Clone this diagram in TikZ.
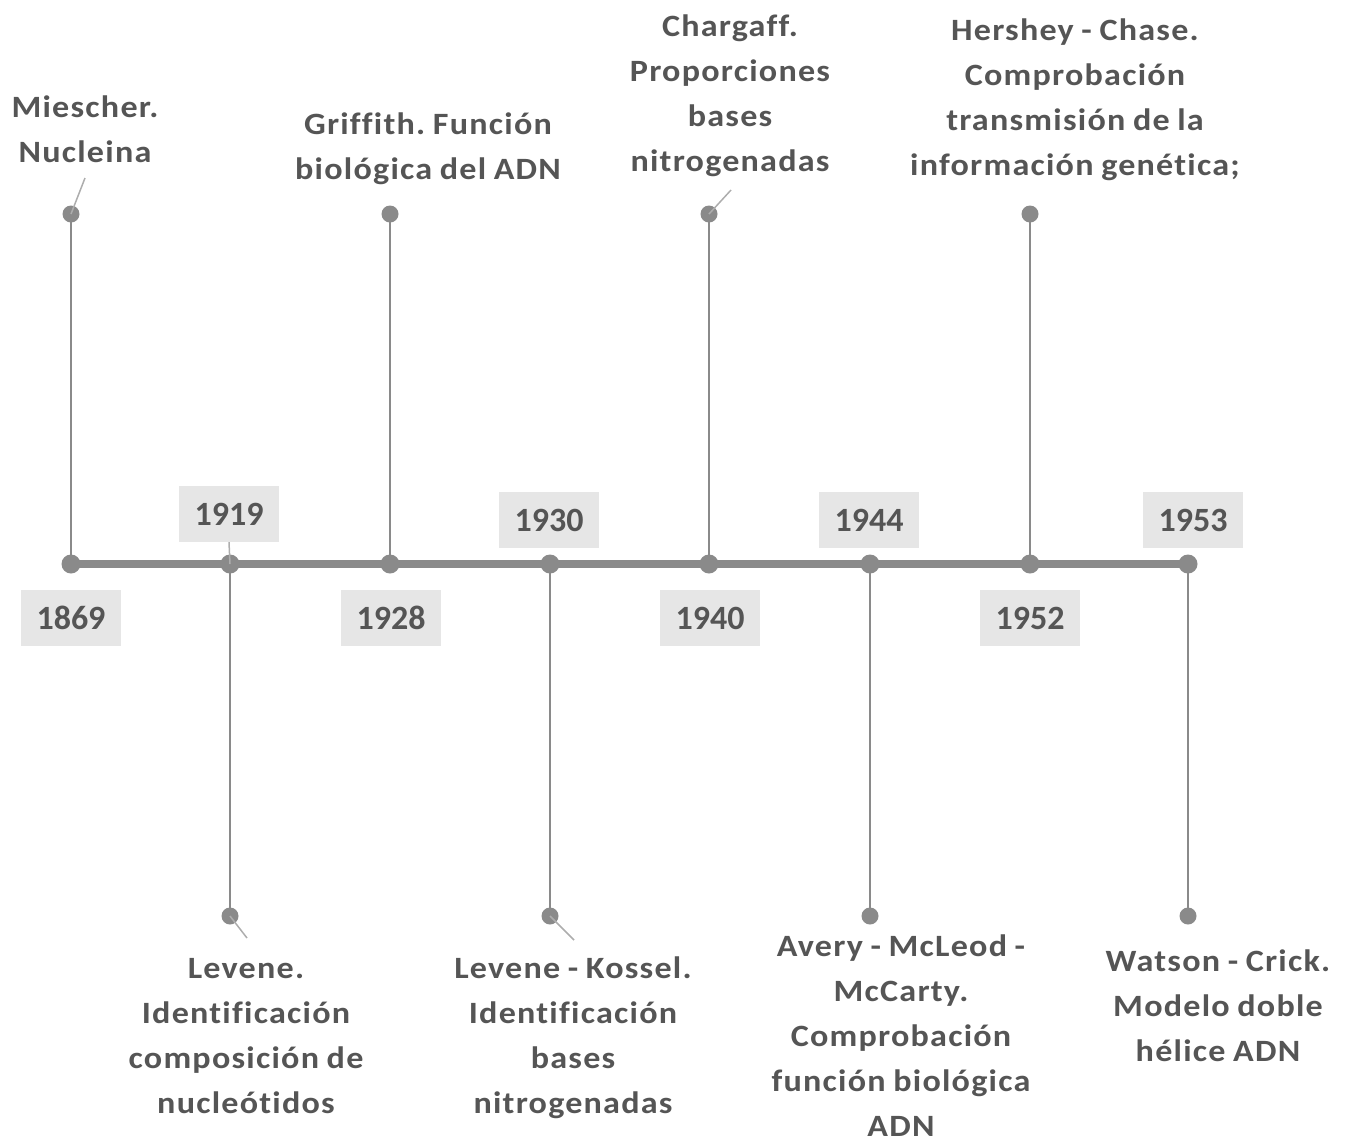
\documentclass[tikz,border=0pt]{standalone}
\usepackage{fontspec}
\setmainfont{Carlito}
\newfontfamily\labelfont[FakeStretch=1.1,LetterSpace=4,Ligatures=NoCommon,WordSpace=0.85]{Carlito}
\definecolor{txt}{HTML}{555555}
\definecolor{ln}{HTML}{8A8A8A}
\definecolor{yr}{HTML}{E6E6E6}
\frenchspacing
\begin{document}
\begin{tikzpicture}[x=1pt,y=-1pt,
  lbl/.style={text=txt,font=\labelfont\bfseries\fontsize{31}{45}\selectfont,align=center,inner sep=0pt},
  yearbox/.style={fill=yr,text=txt,font=\bfseries\fontsize{34}{38}\selectfont,minimum width=100pt,minimum height=56pt,inner sep=0pt},
  stem/.style={draw=ln,line width=2pt},
  leader/.style={draw=ln!70,line width=1.5pt},
  dot/.style={circle,fill=ln,inner sep=0pt,minimum size=17pt},
  bigdot/.style={circle,fill=ln,inner sep=0pt,minimum size=19pt}]
\useasboundingbox (0,0) rectangle (1348,1144);

% year boxes
\node[yearbox] (y1869) at (71,618) {1869};
\node[yearbox] (y1919) at (229,514) {1919};
\node[yearbox] (y1928) at (391,618) {1928};
\node[yearbox] (y1930) at (549,520) {1930};
\node[yearbox] (y1940) at (710,618) {1940};
\node[yearbox] (y1944) at (869,520) {1944};
\node[yearbox] (y1952) at (1030,618) {1952};
\node[yearbox] (y1953) at (1193,520) {1953};

% points on the axis
\coordinate (a1) at (71,564);
\coordinate (a2) at (230,564);
\coordinate (a3) at (390,564);
\coordinate (a4) at (550,564);
\coordinate (a5) at (709,564);
\coordinate (a6) at (870,564);
\coordinate (a7) at (1030,564);
\coordinate (a8) at (1188,564);

% stem ends
\node[dot] (t1) at (71,214) {};
\node[dot] (t3) at (390,214) {};
\node[dot] (t5) at (709,214) {};
\node[dot] (t7) at (1030,214) {};
\node[dot] (b2) at (230,916) {};
\node[dot] (b4) at (550,916) {};
\node[dot] (b6) at (870,916) {};
\node[dot] (b8) at (1188,916) {};

% stems
\foreach \s/\e in {a1/t1,a3/t3,a5/t5,a7/t7,a2/b2,a4/b4,a6/b6,a8/b8}
  \draw[stem] (\s) -- (\e.center);

% axis
\draw[draw=ln,line width=8pt] (a1) -- (a8);
\foreach \p in {a1,a2,a3,a4,a5,a6,a7,a8}
  \node[bigdot] at (\p) {};
\draw[leader] (y1919.south) -- (a2);

% event labels
\node[lbl] (m) at (85,129) {Miescher.\\Nucleina};
\node[lbl] (g) at (428,149) {Griffith. Función\\biológica del ADN};
\node[lbl] (c) at (730,96) {Chargaff.\\Proporciones\\bases\\nitrogenadas};
\node[lbl] (h) at (1075,100) {Hershey - Chase.\\Comprobación\\transmisión de la\\información genética;};
\node[lbl] (l) at (246,1036) {Levene.\\Identificación\\composición de\\nucleótidos};
\node[lbl] (k) at (573,1038) {Levene - Kossel.\\Identificación\\bases\\nitrogenadas};
\node[lbl] (av) at (901,1036) {Avery - McLeod -\\McCarty.\\Comprobación\\función biológica\\ADN};
\node[lbl] (w) at (1218,1006) {Watson - Crick.\\Modelo doble\\hélice ADN};

% leaders from labels to stem ends
\coordinate (m0) at (85,178);
\coordinate (c0) at (731,190);
\coordinate (l0) at (247,938);
\coordinate (k0) at (574,940);
\draw[leader] (m0) -- (t1.center);
\draw[leader] (c0) -- (t5.center);
\draw[leader] (l0) -- (b2.center);
\draw[leader] (k0) -- (b4.center);
\end{tikzpicture}
\end{document}
